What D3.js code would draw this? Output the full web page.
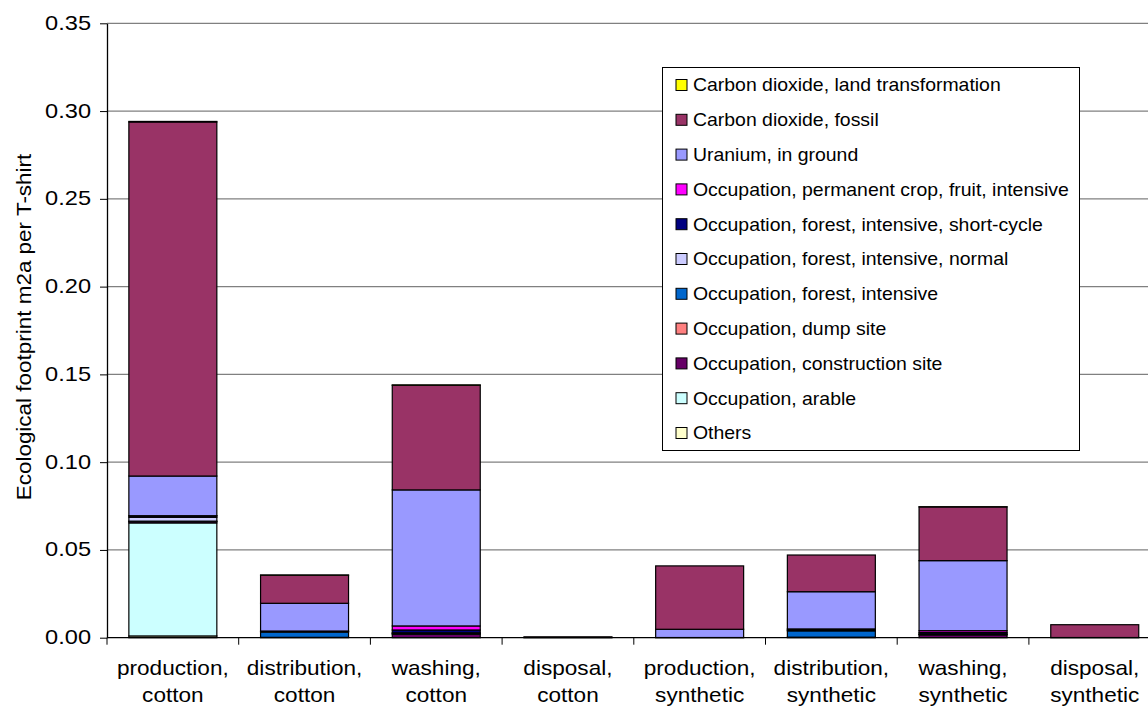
<!DOCTYPE html>
<html>
<head>
<meta charset="utf-8">
<script src="https://cdn.jsdelivr.net/npm/d3@7"></script>
<style>
  html, body { margin: 0; padding: 0; background: #fff; }
  svg { display: block; font-family: "Liberation Sans", Arial, sans-serif; }
</style>
</head>
<body>
<svg id="chart" width="1148" height="707"></svg>
<script>
// ---------- data ----------
const categories = [
  "production, cotton", "distribution, cotton", "washing, cotton", "disposal, cotton",
  "production, synthetic", "distribution, synthetic", "washing, synthetic", "disposal, synthetic"
];
const yTicks = [0, 0.05, 0.10, 0.15, 0.20, 0.25, 0.30, 0.35];
const yTitle = "Ecological footprint m2a per T-shirt";

// stacking order bottom -> top
const seriesNames = [
  "Others",
  "Occupation, arable",
  "Occupation, construction site",
  "Occupation, dump site",
  "Occupation, forest, intensive",
  "Occupation, forest, intensive, normal",
  "Occupation, forest, intensive, short-cycle",
  "Occupation, permanent crop, fruit, intensive",
  "Uranium, in ground",
  "Carbon dioxide, fossil",
  "Carbon dioxide, land transformation"
];
const seriesColors = [
  "#FFFFCC", "#CCFFFF", "#660066", "#FF8080", "#0066CC", "#CCCCFF",
  "#000080", "#FF00FF", "#9999FF", "#993366", "#FFFF00"
];

const others       = [0.0010, 0,      0,      0,      0,      0,      0,      0];
const arable       = [0.0644, 0,      0,      0,      0,      0,      0,      0];
const construction = [0.0008, 0.0002, 0.0020, 0,      0.0001, 0.0003, 0.0016, 0];
const dumpSite     = [0,      0,      0,      0,      0,      0,      0,      0];
const forestInt    = [0.0002, 0.0030, 0.0004, 0,      0,      0.0036, 0.0003, 0];
const forestNormal = [0.0022, 0.0004, 0.0004, 0,      0,      0.0005, 0.0002, 0];
const shortCycle   = [0.0008, 0.0002, 0.0016, 0,      0,      0.0006, 0.0008, 0];
const permCrop     = [0.0001, 0,      0.0023, 0,      0,      0,      0.0011, 0];
const uranium      = [0.0226, 0.0158, 0.0775, 0.0001, 0.0047, 0.0212, 0.0399, 0.0001];
const fossil       = [0.2017, 0.0160, 0.0596, 0.0004, 0.0361, 0.0209, 0.0306, 0.0073];
const landTransf   = [0.0003, 0.0001, 0.0002, 0,      0,      0,      0.0001, 0];

const seriesValues = [others, arable, construction, dumpSite, forestInt, forestNormal,
  shortCycle, permCrop, uranium, fossil, landTransf];

// ---------- layout ----------
const svg = d3.select("#chart");
const plotLeft = 107, step = 131.7, plotTop = 23.3, plotBottom = 637.7;
const plotRight = plotLeft + step * categories.length;

const x = d3.scaleBand().domain(categories).range([plotLeft, plotRight])
  .paddingInner(0.332).paddingOuter(0.166);
const y = d3.scaleLinear().domain([0, 0.35]).range([plotBottom, plotTop]);

// gridlines
svg.append("g").selectAll("line").data(yTicks.filter(d => d > 0)).join("line")
  .attr("x1", plotLeft).attr("x2", plotRight)
  .attr("y1", d => y(d)).attr("y2", d => y(d))
  .attr("stroke", "#808080").attr("stroke-width", 1.3);

// stacked data
const rows = categories.map((c, i) => {
  const r = { cat: c };
  seriesNames.forEach((s, j) => { r[s] = seriesValues[j][i]; });
  return r;
});
const stack = d3.stack().keys(seriesNames)(rows);

const gBars = svg.append("g");
stack.forEach((layer, j) => {
  gBars.append("g").attr("fill", seriesColors[j])
    .selectAll("rect").data(layer.filter(d => d[1] - d[0] > 0)).join("rect")
    .attr("x", d => x(d.data.cat))
    .attr("width", x.bandwidth())
    .attr("y", d => y(d[1]))
    .attr("height", d => y(d[0]) - y(d[1]))
    .attr("stroke", "#000").attr("stroke-width", 1.2);
});

// y axis
const yAxis = d3.axisLeft(y).tickValues(yTicks).tickFormat(d3.format(".2f"))
  .tickSize(7).tickSizeOuter(0);
const gy = svg.append("g").attr("transform", `translate(${plotLeft},0)`).call(yAxis);
gy.select(".domain").attr("stroke", "#000").attr("stroke-width", 1.3);
gy.selectAll(".tick line").attr("stroke", "#000");
gy.selectAll(".tick text").remove();
gy.selectAll(".tick").append("text")
  .attr("transform", "translate(-16,-1) scale(1.18,1)")
  .attr("text-anchor", "end").attr("dy", "0.35em")
  .attr("font-size", 20).attr("fill", "#000")
  .text(d => d3.format(".2f")(d));

// x axis
svg.append("line").attr("x1", plotLeft).attr("x2", plotRight)
  .attr("y1", plotBottom).attr("y2", plotBottom)
  .attr("stroke", "#000").attr("stroke-width", 1.3);
const bounds = d3.range(categories.length + 1).map(i => x.range()[0] + i * x.step());
svg.append("g").selectAll("line").data(bounds).join("line")
  .attr("x1", d => d).attr("x2", d => d)
  .attr("y1", plotBottom).attr("y2", plotBottom + 7)
  .attr("stroke", "#000");
const gx = svg.append("g");
categories.forEach(c => {
  const cx = x(c) + x.bandwidth() / 2;
  const parts = c.split(", ");
  parts.forEach((p, k) => {
    gx.append("text")
      .attr("transform", `translate(${cx},${675 + k * 27}) scale(1.13,1)`)
      .attr("text-anchor", "middle").attr("font-size", 20).attr("fill", "#000")
      .text(k < parts.length - 1 ? p + "," : p);
  });
});

// y title
svg.append("text")
  .attr("transform", "translate(31,327) rotate(-90) scale(1.07,1)")
  .attr("text-anchor", "middle").attr("font-size", 21).attr("fill", "#000")
  .text(yTitle);

// legend
const lg = svg.append("g");
lg.append("rect").attr("x", 662.5).attr("y", 67.5).attr("width", 417).attr("height", 383)
  .attr("fill", "#fff").attr("stroke", "#000").attr("stroke-width", 1);
const legendOrder = seriesNames.map((n, j) => j).reverse();
legendOrder.forEach((j, i) => {
  const cy = 85 + i * 34.8;
  lg.append("rect").attr("x", 676).attr("y", cy - 5.5).attr("width", 11).attr("height", 11)
    .attr("fill", seriesColors[j]).attr("stroke", "#000").attr("stroke-width", 1);
  lg.append("text")
    .attr("transform", `translate(693,${cy}) scale(1.08,1)`)
    .attr("dy", "0.35em").attr("font-size", 18).attr("fill", "#000")
    .text(seriesNames[j]);
});
</script>
</body>
</html>
